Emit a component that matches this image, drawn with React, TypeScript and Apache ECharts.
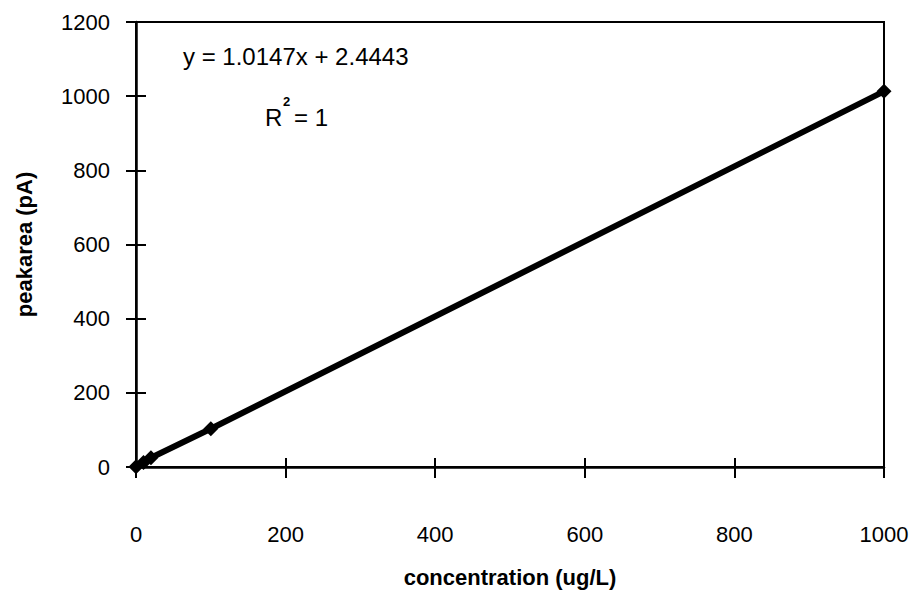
import React, { useEffect, useRef } from "react";
import * as echarts from "echarts";

// Calibration standards: concentration (ug/L) against measured peak area (pA)
const concentrations = [0, 10, 20, 100, 1000];
const peakAreas = [1, 12, 25, 103, 1013];

const xTicks = { min: 0, max: 1000, interval: 200 };
const yTicks = { min: 0, max: 1200, interval: 200 };

const equationText = "y = 1.0147x + 2.4443";
const rSquaredValue = "= 1";

const FONT = "'Liberation Sans', Arial, sans-serif";

export default function App() {
  const ref = useRef<HTMLDivElement>(null);

  useEffect(() => {
    if (!ref.current) return;
    const chart = echarts.init(ref.current, undefined, { renderer: "svg" });
    const points = concentrations.map((c, i) => [c, peakAreas[i]]);

    const tickStyle = { color: "#000", width: 2 };
    const plain = (v: number) => String(v);

    chart.setOption({
      animation: false,
      backgroundColor: "#fff",
      grid: {
        left: 136,
        right: 32,
        top: 22,
        bottom: 129,
        show: true,
        borderColor: "#000",
        borderWidth: 2,
      },
      xAxis: [
        {
          type: "value",
          ...xTicks,
          name: "concentration (ug/L)",
          nameLocation: "middle",
          nameGap: 99,
          nameTextStyle: { fontFamily: FONT, fontSize: 22, fontWeight: "bold", color: "#000" },
          axisLine: { show: true, lineStyle: { color: "#000", width: 2.5 } },
          axisTick: { show: true, length: 11, lineStyle: tickStyle },
          axisLabel: { margin: 56, fontFamily: FONT, fontSize: 22, color: "#000", formatter: plain },
          splitLine: { show: false },
        },
        {
          type: "value",
          ...xTicks,
          position: "bottom",
          axisLine: { show: false },
          axisTick: { show: true, inside: true, length: 9, lineStyle: tickStyle },
          axisLabel: { show: false },
          splitLine: { show: false },
        },
      ],
      yAxis: [
        {
          type: "value",
          ...yTicks,
          name: "peakarea (pA)",
          nameLocation: "middle",
          nameGap: 101,
          nameTextStyle: { fontFamily: FONT, fontSize: 22, fontWeight: "bold", color: "#000" },
          axisLine: { show: true, lineStyle: { color: "#000", width: 2.5 } },
          axisTick: { show: true, length: 10, lineStyle: tickStyle },
          axisLabel: { margin: 26, fontFamily: FONT, fontSize: 22, color: "#000", formatter: plain },
          splitLine: { show: false },
        },
        {
          type: "value",
          ...yTicks,
          position: "left",
          axisLine: { show: false },
          axisTick: { show: true, inside: true, length: 10, lineStyle: tickStyle },
          axisLabel: { show: false },
          splitLine: { show: false },
        },
      ],
      series: [
        {
          type: "line",
          data: points,
          symbol: "diamond",
          symbolSize: 15,
          itemStyle: { color: "#000" },
          lineStyle: { color: "#000", width: 6 },
          z: 5,
        },
      ],
      graphic: [
        {
          type: "text",
          left: 183,
          top: 44,
          style: { text: equationText, font: `24px ${FONT}`, fill: "#000" },
        },
        {
          type: "text",
          left: 265,
          top: 105,
          style: { text: "R", font: `24px ${FONT}`, fill: "#000" },
        },
        {
          type: "text",
          left: 283,
          top: 95,
          style: { text: "2", font: `bold 13px ${FONT}`, fill: "#000" },
        },
        {
          type: "text",
          left: 294,
          top: 105,
          style: { text: rSquaredValue, font: `24px ${FONT}`, fill: "#000" },
        },
      ],
    });

    return () => chart.dispose();
  }, []);

  return (
    <div
      ref={ref}
      style={{ position: "fixed", left: 0, top: 0, width: 916, height: 596, background: "#fff" }}
    />
  );
}
